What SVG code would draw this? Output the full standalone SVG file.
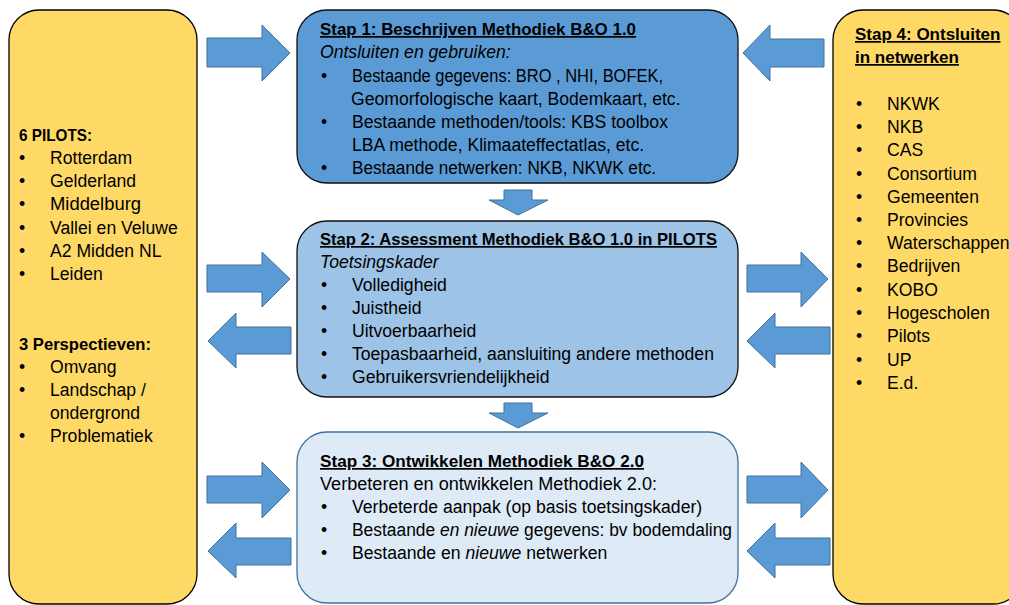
<svg xmlns="http://www.w3.org/2000/svg" width="1009" height="605" viewBox="0 0 1009 605">
<style>
text{font-family:"Liberation Sans",Arial,sans-serif;font-size:17.6px;fill:#000}
.b{font-weight:bold;font-size:17px}
.u{text-decoration:underline}
.i{font-style:italic}
.arr{fill:#5B9BD5;stroke:#41719C;stroke-width:1}
.panel{fill:#FFD966;stroke:#000;stroke-width:1.3}
</style>
<rect width="1009" height="605" fill="#fff"/>
<g id="connectors">
<polygon class="arr" points="207,38 262,38 262,25 290,53 262,81 262,67 207,67"/>
<polygon class="arr" points="207,265 262,265 262,252 290,279 262,307 262,292 207,292"/>
<polygon class="arr" points="291,327 236,327 236,313 208,341 236,368 236,354 291,354"/>
<polygon class="arr" points="207,476 262,476 262,462 290,490 262,518 262,503 207,503"/>
<polygon class="arr" points="291,538 236,538 236,523 208,551 236,578 236,565 291,565"/>
<polygon class="arr" points="824,39 770,39 770,25 743,53 770,81 770,67 824,67"/>
<polygon class="arr" points="747,265 801,265 801,252 828,279 801,307 801,292 747,292"/>
<polygon class="arr" points="830,327 775,327 775,313 747,341 775,368 775,354 830,354"/>
<polygon class="arr" points="747,476 801,476 801,462 828,490 801,518 801,503 747,503"/>
<polygon class="arr" points="830,538 775,538 775,523 747,551 775,578 775,565 830,565"/>
<polygon class="arr" points="504,190 532,190 532,200 548,200 518,215 489,200 504,200"/>
<polygon class="arr" points="504,403 532,403 532,413 548,413 518,428 489,413 504,413"/>
</g>
<g id="pilots">
<rect class="panel" x="9" y="10" width="188" height="594" rx="30"/>
<text class="b" x="19" y="141" textLength="73" lengthAdjust="spacingAndGlyphs">6 PILOTS:</text>
<text x="19" y="164">•</text><text x="50" y="164">Rotterdam</text>
<text x="19" y="187">•</text><text x="50" y="187">Gelderland</text>
<text x="19" y="210">•</text><text x="50" y="210" textLength="91" lengthAdjust="spacingAndGlyphs">Middelburg</text>
<text x="19" y="234">•</text><text x="50" y="234">Vallei en Veluwe</text>
<text x="19" y="257">•</text><text x="50" y="257">A2 Midden NL</text>
<text x="19" y="280">•</text><text x="50" y="280">Leiden</text>
<text class="b" x="19" y="350" textLength="132" lengthAdjust="spacingAndGlyphs">3 Perspectieven:</text>
<text x="19" y="373">•</text><text x="50" y="373">Omvang</text>
<text x="19" y="396">•</text><text x="50" y="396">Landschap /</text>
<text x="50" y="419">ondergrond</text>
<text x="19" y="442">•</text><text x="50" y="442">Problematiek</text>
</g>
<g id="stap1">
<rect x="297" y="10" width="441" height="173" rx="30" fill="#5B9BD5" stroke="#111" stroke-width="1.3"/>
<text class="b u" x="320" y="35" textLength="316" lengthAdjust="spacingAndGlyphs">Stap 1: Beschrijven Methodiek B&amp;O 1.0</text>
<text class="i" x="320" y="58">Ontsluiten en gebruiken:</text>
<text x="321" y="82">•</text><text x="352" y="82" textLength="311" lengthAdjust="spacingAndGlyphs">Bestaande gegevens: BRO , NHI, BOFEK,</text>
<text x="351" y="105">Geomorfologische kaart, Bodemkaart, etc.</text>
<text x="321" y="128">•</text><text x="352" y="128">Bestaande methoden/tools: KBS toolbox</text>
<text x="352" y="151">LBA methode, Klimaateffectatlas, etc.</text>
<text x="321" y="174">•</text><text x="352" y="174" textLength="304" lengthAdjust="spacingAndGlyphs">Bestaande netwerken: NKB, NKWK etc.</text>
</g>
<g id="stap2">
<rect x="297" y="221" width="441" height="176" rx="30" fill="#9DC3E6" stroke="#111" stroke-width="1.3"/>
<text class="b u" x="320" y="245" textLength="397" lengthAdjust="spacingAndGlyphs">Stap 2: Assessment Methodiek B&amp;O 1.0 in PILOTS</text>
<text class="i" x="320" y="268">Toetsingskader</text>
<text x="321" y="291">•</text><text x="352" y="291">Volledigheid</text>
<text x="321" y="314">•</text><text x="352" y="314">Juistheid</text>
<text x="321" y="337">•</text><text x="352" y="337">Uitvoerbaarheid</text>
<text x="321" y="360">•</text><text x="352" y="360">Toepasbaarheid, aansluiting andere methoden</text>
<text x="321" y="383">•</text><text x="352" y="383">Gebruikersvriendelijkheid</text>
</g>
<g id="stap3">
<rect x="297" y="432" width="441" height="171" rx="30" fill="#DEEBF7" stroke="#41719C" stroke-width="1.3"/>
<text class="b u" x="320" y="467" textLength="324" lengthAdjust="spacingAndGlyphs">Stap 3: Ontwikkelen Methodiek B&amp;O 2.0</text>
<text x="320" y="490" textLength="337" lengthAdjust="spacingAndGlyphs">Verbeteren en ontwikkelen Methodiek 2.0:</text>
<text x="321" y="513">•</text><text x="352" y="513">Verbeterde aanpak (op basis toetsingskader)</text>
<text x="321" y="536">•</text><text x="352" y="536" textLength="380" lengthAdjust="spacingAndGlyphs">Bestaande <tspan class="i">en nieuwe</tspan> gegevens: bv bodemdaling</text>
<text x="321" y="559">•</text><text x="352" y="559">Bestaande en <tspan class="i">nieuwe</tspan> netwerken</text>
</g>
<g id="stap4">
<rect class="panel" x="833" y="10" width="190" height="594" rx="30"/>
<text class="b u" x="855" y="40">Stap 4: Ontsluiten</text>
<text class="b u" x="855" y="63">in netwerken</text>
<text x="856" y="110">•</text><text x="887" y="110">NKWK</text>
<text x="856" y="133">•</text><text x="887" y="133">NKB</text>
<text x="856" y="156">•</text><text x="887" y="156">CAS</text>
<text x="856" y="180">•</text><text x="887" y="180">Consortium</text>
<text x="856" y="203">•</text><text x="887" y="203">Gemeenten</text>
<text x="856" y="226">•</text><text x="887" y="226">Provincies</text>
<text x="856" y="249">•</text><text x="887" y="249">Waterschappen</text>
<text x="856" y="272">•</text><text x="887" y="272">Bedrijven</text>
<text x="856" y="296">•</text><text x="887" y="296">KOBO</text>
<text x="856" y="319">•</text><text x="887" y="319">Hogescholen</text>
<text x="856" y="342">•</text><text x="887" y="342">Pilots</text>
<text x="856" y="366">•</text><text x="887" y="366">UP</text>
<text x="856" y="389">•</text><text x="887" y="389">E.d.</text>
</g>
</svg>
